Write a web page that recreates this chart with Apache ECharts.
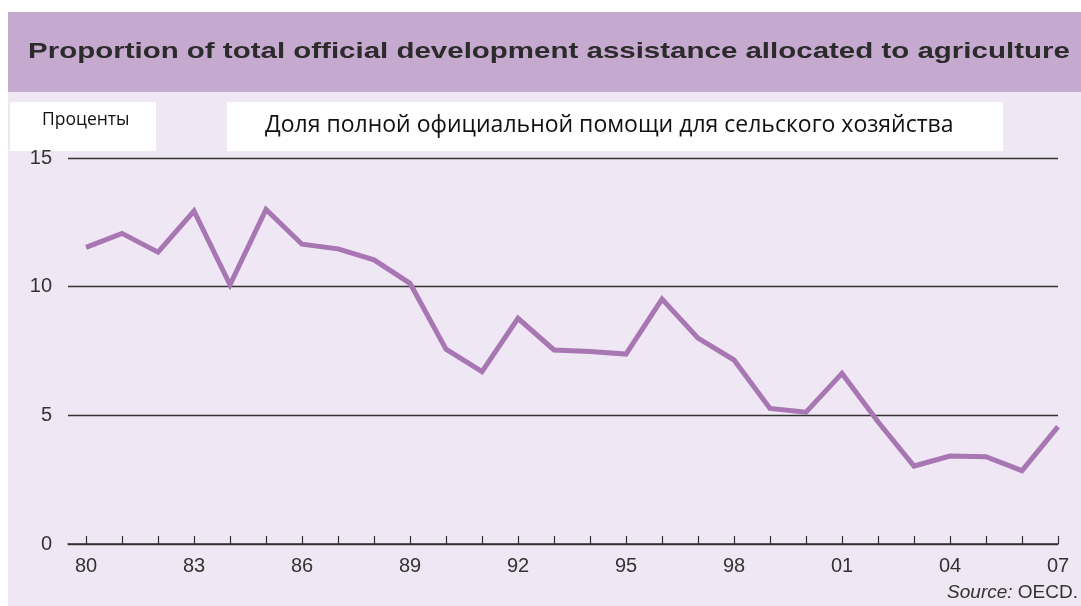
<!DOCTYPE html>
<html>
<head>
<meta charset="utf-8">
<script src="https://cdn.jsdelivr.net/npm/echarts@6/dist/echarts.min.js"></script>
<style>
html,body{margin:0;padding:0;background:#fff;}
#chart{width:1081px;height:606px;}
</style>
</head>
<body>
<div id="chart"></div>
<script>
const years = [1980,1981,1982,1983,1984,1985,1986,1987,1988,1989,1990,1991,1992,1993,1994,1995,1996,1997,1998,1999,2000,2001,2002,2003,2004,2005,2006,2007];
const values = [11.53,12.07,11.34,12.94,10.07,13.0,11.65,11.47,11.04,10.13,7.57,6.70,8.77,7.54,7.48,7.38,9.52,8.0,7.15,5.27,5.12,6.63,4.75,3.03,3.42,3.39,2.85,4.56];
const labelYears = [1980,1983,1986,1989,1992,1995,1998,2001,2004,2007];
const yTicks = [0,5,10,15];
const titleText = 'Proportion of total official development assistance allocated to agriculture';
const unitText = 'Проценты';
const subtitleText = 'Доля полной официальной помощи для сельского хозяйства';

const chart = echarts.init(document.getElementById('chart'));
const option = {
  animation: false,
  backgroundColor: '#ffffff',
  graphic: [
    {type:'rect', z:-10, shape:{x:8,y:92,width:1073,height:514}, style:{fill:'#efe7f3'}},
    {type:'rect', z:-10, shape:{x:8,y:12,width:1073,height:80}, style:{fill:'#c5a9cf'}},
    {type:'rect', z:-5, shape:{x:10,y:102,width:146,height:49}, style:{fill:'#ffffff'}},
    {type:'rect', z:-5, shape:{x:227,y:102,width:776,height:49}, style:{fill:'#ffffff'}},
    {type:'text', x:28, y:52, scaleX:1.34, style:{text:titleText, fontFamily:'Liberation Sans, Arial, sans-serif', fontWeight:'bold', fontSize:22, fill:'#2b2b2b', verticalAlign:'middle', align:'left'}},
    {type:'text', x:42, y:120, style:{text:unitText, fontFamily:'Open Sans, Noto Sans, sans-serif', fontSize:17.5, fill:'#111', verticalAlign:'middle', align:'left'}},
    {type:'text', x:265, y:125, style:{text:subtitleText, fontFamily:'Open Sans, Noto Sans, sans-serif', fontSize:23, fill:'#111', verticalAlign:'middle', align:'left'}},
    {type:'text', x:1078, y:593, style:{text:'{i|Source:} OECD.', rich:{i:{fontStyle:'italic', fontFamily:'Liberation Sans, Arial, sans-serif', fontSize:19, fill:'#333'}}, fontFamily:'Liberation Sans, Arial, sans-serif', fontSize:19, fill:'#333', verticalAlign:'middle', align:'right'}}
  ],
  grid: {left:68, right:23, top:158, bottom:62, containLabel:false},
  xAxis: {
    type:'value', min:1979.5, max:2007,
    axisLine:{show:true, lineStyle:{color:'#333', width:1.5}},
    axisTick:{show:true, inside:true, length:8, lineStyle:{color:'#333', width:1.2}, customValues: years},
    axisLabel:{customValues: labelYears, formatter: v => String(v % 100).padStart(2,'0'), fontFamily:'Liberation Sans, Arial, sans-serif', fontSize:20, color:'#333', margin:12},
    splitLine:{show:false}
  },
  yAxis: {
    type:'value', min:0, max:15, interval:5,
    axisLine:{show:false}, axisTick:{show:false},
    axisLabel:{fontFamily:'Liberation Sans, Arial, sans-serif', fontSize:20, color:'#333', margin:16},
    splitLine:{show:true, lineStyle:{color:'#333', width:1.3}}
  },
  series: [{
    type:'line',
    data: years.map((y,i)=>[y, values[i]]),
    symbol:'none',
    lineStyle:{color:'#a776b3', width:5, join:'miter'},
    z:5
  }]
};
chart.setOption(option);
</script>
</body>
</html>
